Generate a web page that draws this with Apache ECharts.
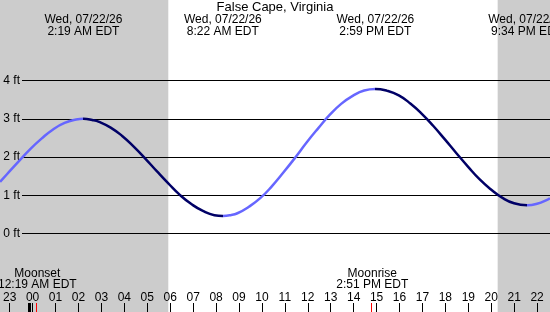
<!DOCTYPE html>
<html>
<head>
<meta charset="utf-8">
<script src="https://cdn.jsdelivr.net/npm/echarts@6/dist/echarts.min.js"></script>
<style>html,body{margin:0;padding:0;background:#fff}#c{width:550px;height:312px}</style>
</head>
<body>
<div id="c"></div>
<script>
// ---- data ----
var stationName = 'False Cape, Virginia';
var dateLabel = 'Wed, 07/22/26';
// tide curve (hours since midnight, feet)
var tideHours = [-1.30, -1, -0.5, 0, 0.5, 1, 1.5, 2, 2.317, 2.7, 3, 3.5, 4, 4.5, 5, 5.5, 6, 6.5, 7, 7.5, 8, 8.367, 8.7, 9, 9.5, 10, 10.5, 11, 11.5, 12, 12.5, 13, 13.5, 14, 14.5, 14.983, 15.5, 16, 16.5, 17, 17.5, 18, 18.5, 19, 19.5, 20, 20.5, 21, 21.567, 22, 22.5, 22.56];
var tideFeet  = [1.35, 1.55, 1.88, 2.20, 2.48, 2.72, 2.89, 2.98, 3.00, 2.97, 2.92, 2.77, 2.55, 2.27, 1.96, 1.63, 1.31, 1.01, 0.77, 0.59, 0.48, 0.46, 0.48, 0.53, 0.70, 0.93, 1.24, 1.60, 1.98, 2.38, 2.75, 3.10, 3.39, 3.60, 3.74, 3.78, 3.73, 3.61, 3.40, 3.13, 2.81, 2.46, 2.10, 1.75, 1.42, 1.15, 0.93, 0.79, 0.74, 0.78, 0.90, 0.92];
// high / low tide events
var extremeHours = [2.317, 8.367, 14.983, 21.567];
var extremeTypes = ['H', 'L', 'H', 'L'];
var extremeLabels = ['2:19 AM EDT', '8:22 AM EDT', '2:59 PM EDT', '9:34 PM EDT'];
// moon events
var moonHours = [0.317, 14.85];
var moonNames = ['Moonset', 'Moonrise'];
var moonLabels = ['12:19 AM EDT', '2:51 PM EDT'];
// sun
var sunriseHour = 6.0;
var sunsetHour = 20.29;
// day change markers
var midnightHours = [0];
// axes
var hourTicksMin = -1, hourTicksMax = 22;
var feetTicks = [0, 1, 2, 3, 4];
var viewMinHour = -1.3015, viewMaxHour = 22.56;
var viewMinFeet = -2.052, viewMaxFeet = 6.105;

// ---- style ----
var FONT = '"Liberation Sans", Arial, sans-serif';
var LIGHT = '#6666ff', DARK = '#000066', GRAY = '#cccccc';

var pieces = [];
var prev = -Infinity;
for (var i = 0; i < extremeHours.length; i++) {
  pieces.push({gte: prev, lt: extremeHours[i], color: extremeTypes[i] === 'H' ? LIGHT : DARK});
  prev = extremeHours[i];
}
pieces.push({gte: prev, lt: Infinity, color: extremeTypes[extremeTypes.length - 1] === 'H' ? DARK : LIGHT});

var curveData = tideHours.map(function (h, i) { return [h, tideFeet[i]]; });
var nightData = [[viewMinHour, sunriseHour], [sunsetHour, viewMaxHour]];

var chart = echarts.init(document.getElementById('c'), null, {renderer: 'canvas'});
chart.setOption({
  animation: false,
  backgroundColor: '#ffffff',
  title: {
    text: stationName, left: 'center', top: 1, padding: 0,
    textStyle: {fontSize: 13, fontWeight: 'normal', color: '#000', fontFamily: FONT}
  },
  grid: [
    {left: 0, right: 0, top: 0, bottom: 0},
    {left: 22, right: 0, top: 80.5, bottom: 78.5},
    {left: 6.95, right: 12.9, top: 0, bottom: 0}
  ],
  xAxis: [
    {gridIndex: 0, type: 'value', min: viewMinHour, max: viewMaxHour, show: false},
    {gridIndex: 1, type: 'value', min: 0, max: 1, show: false},
    {gridIndex: 2, type: 'value', min: hourTicksMin, max: hourTicksMax, interval: 1, position: 'bottom', z: 1,
      axisLine: {show: false},
      axisTick: {show: true, inside: true, length: 9, lineStyle: {color: '#000', width: 1}},
      axisLabel: {inside: true, margin: 8, fontSize: 12, color: '#000', fontFamily: FONT,
        showMinLabel: true, showMaxLabel: true, hideOverlap: false,
        formatter: function (v) { var h = ((Math.round(v) % 24) + 24) % 24; return (h < 10 ? '0' : '') + h; }},
      splitLine: {show: false}}
  ],
  yAxis: [
    {gridIndex: 0, type: 'value', min: viewMinFeet, max: viewMaxFeet, show: false},
    {gridIndex: 1, type: 'value', min: feetTicks[0], max: feetTicks[feetTicks.length - 1], interval: 1, z: 1,
      axisLine: {show: false}, axisTick: {show: false},
      axisLabel: {margin: 2, fontSize: 12, color: '#000', fontFamily: FONT, formatter: '{value} ft'},
      splitLine: {show: true, lineStyle: {color: '#000', width: 1}}},
    {gridIndex: 2, type: 'value', min: 0, max: 1, show: false}
  ],
  visualMap: {show: false, type: 'piecewise', dimension: 0, seriesIndex: 1, pieces: pieces},
  series: [
    {
      type: 'custom', xAxisIndex: 0, yAxisIndex: 0, z: 0, silent: true,
      data: nightData,
      renderItem: function (params, api) {
        var x0 = api.coord([api.value(0), 0])[0];
        var x1 = api.coord([api.value(1), 0])[0];
        var cs = params.coordSys;
        return {type: 'rect', shape: {x: x0, y: cs.y, width: x1 - x0, height: cs.height}, style: {fill: GRAY}};
      }
    },
    {
      type: 'line', xAxisIndex: 0, yAxisIndex: 0, z: 3, data: curveData,
      smooth: 0.5, showSymbol: false, symbol: 'none',
      lineStyle: {width: 2.5}
    },
    {
      type: 'custom', xAxisIndex: 0, yAxisIndex: 0, z: 4, silent: true,
      data: extremeHours.map(function (h) { return [h]; }),
      renderItem: function (params, api) {
        var x = api.coord([api.value(0), 0])[0];
        return {type: 'text', style: {
          text: dateLabel + '\n' + extremeLabels[params.dataIndex],
          x: x, y: 26, align: 'center', verticalAlign: 'middle', lineHeight: 12,
          fontSize: 12, fontFamily: FONT, fill: '#000'}};
      }
    },
    {
      type: 'custom', xAxisIndex: 0, yAxisIndex: 0, z: 4, silent: true,
      data: moonHours.map(function (h) { return [h]; }),
      renderItem: function (params, api) {
        var x = api.coord([api.value(0), 0])[0];
        var cs = params.coordSys;
        var bottom = cs.y + cs.height;
        return {type: 'group', children: [
          {type: 'text', style: {
            text: moonNames[params.dataIndex] + '\n' + moonLabels[params.dataIndex],
            x: x, y: 279.5, align: 'center', verticalAlign: 'middle', lineHeight: 11,
            fontSize: 12, fontFamily: FONT, fill: '#000'}},
          {type: 'rect', shape: {x: Math.round(x) - 1, y: bottom - 9, width: 1, height: 9}, style: {fill: '#ff0000'}}
        ]};
      }
    },
    {
      type: 'custom', xAxisIndex: 0, yAxisIndex: 0, z: 4, silent: true,
      data: midnightHours.map(function (h) { return [h]; }),
      renderItem: function (params, api) {
        var x = api.coord([api.value(0), 0])[0];
        var cs = params.coordSys;
        var bottom = cs.y + cs.height;
        return {type: 'rect', shape: {x: Math.round(x) - 2, y: bottom - 9, width: 3, height: 9}, style: {fill: '#000'}};
      }
    }
  ]
});
</script>
</body>
</html>
